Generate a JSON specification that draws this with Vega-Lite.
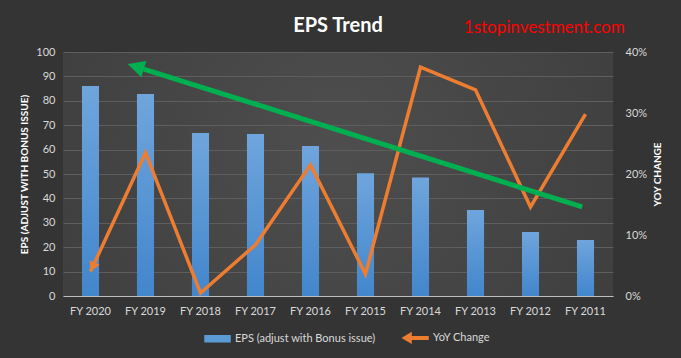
{
  "$schema": "https://vega.github.io/schema/vega-lite/v6.json",
  "width": 550,
  "height": 244,
  "autosize": {"type": "none"},
  "padding": {"left": 63, "top": 52, "right": 68, "bottom": 62},
  "background": "#343434",
  "title": {"text": "EPS Trend", "font": "Lato", "fontSize": 20, "fontWeight": "bold", "color": "#ffffff", "offset": 0, "dy": 17, "anchor": "middle", "frame": "group"},
  "config": {
    "font": "Lato",
    "view": {"stroke": null, "fill": {"gradient": "radial", "x1": 0.5, "y1": 0.45, "r1": 0, "x2": 0.5, "y2": 0.45, "r2": 0.75, "stops": [{"offset": 0, "color": "#4e4e4e"}, {"offset": 1, "color": "#3a3a3a"}]}}
  },
  "datasets": {
    "eps": [
      {"year": "FY 2020", "eps": 86.1, "yoy": 0.040},
      {"year": "FY 2019", "eps": 82.8, "yoy": 0.235},
      {"year": "FY 2018", "eps": 66.8, "yoy": 0.005},
      {"year": "FY 2017", "eps": 66.4, "yoy": 0.084},
      {"year": "FY 2016", "eps": 61.5, "yoy": 0.215},
      {"year": "FY 2015", "eps": 50.3, "yoy": 0.036},
      {"year": "FY 2014", "eps": 48.6, "yoy": 0.375},
      {"year": "FY 2013", "eps": 35.2, "yoy": 0.338},
      {"year": "FY 2012", "eps": 26.2, "yoy": 0.146},
      {"year": "FY 2011", "eps": 23.0, "yoy": 0.298}
    ],
    "trend": [
      {"pos": 1.47, "pct": 0.372},
      {"pos": 9.44, "pct": 0.146}
    ],
    "site": [
      {"label": "1stopinvestment.com"}
    ]
  },
  "layer": [
    {
      "data": {"name": "eps"},
      "mark": {"type": "bar", "color": {"gradient": "linear", "x1": 0, "y1": 0, "x2": 0, "y2": 1, "stops": [{"offset": 0, "color": "#6fa5dc"}, {"offset": 1, "color": "#4286cc"}]}},
      "encoding": {
        "x": {
          "field": "year", "type": "nominal", "sort": null,
          "scale": {"paddingInner": 0.69, "paddingOuter": 0.345},
          "axis": {"title": null, "labelAngle": 0, "labelColor": "#d9d9d9", "labelFont": "Lato", "labelFontSize": 11, "labelPadding": 9, "ticks": false, "domainColor": "#bfbfbf", "domainWidth": 1, "grid": false}
        },
        "y": {
          "field": "eps", "type": "quantitative",
          "scale": {"domain": [0, 100]},
          "axis": {"title": "EPS (ADJUST WITH BONUS ISSUE)", "titleColor": "#ffffff", "titleFont": "Lato", "titleFontSize": 10, "titleFontWeight": "bold", "titlePadding": 6, "values": [0, 10, 20, 30, 40, 50, 60, 70, 80, 90, 100], "labelColor": "#d9d9d9", "labelFont": "Lato", "labelFontSize": 11, "labelPadding": 8, "ticks": false, "domain": false, "grid": true, "gridColor": "#5e5e5e", "gridWidth": 1}
        }
      }
    },
    {
      "layer": [
        {
          "data": {"name": "eps"},
          "mark": {"type": "line", "strokeWidth": 3.5, "strokeJoin": "miter"},
          "encoding": {
            "x": {"field": "year", "type": "nominal", "sort": null, "scale": {"type": "point", "padding": 0.5}, "axis": null},
            "y": {
              "field": "yoy", "type": "quantitative",
              "scale": {"domain": [0, 0.4]},
              "axis": {"orient": "right", "title": "YOY CHANGE", "titleColor": "#ffffff", "titleFont": "Lato", "titleFontSize": 10, "titleFontWeight": "bold", "titleAngle": 270, "titleBaseline": "top", "titlePadding": 6, "values": [0, 0.05, 0.1, 0.15, 0.2, 0.25, 0.3, 0.35, 0.4], "format": ".0%", "labelColor": "#d9d9d9", "labelFont": "Lato", "labelFontSize": 11, "labelPadding": 12, "ticks": false, "domain": false, "grid": false}
            },
            "color": {
              "datum": "YoY Change", "type": "nominal",
              "scale": {"domain": ["EPS (adjust with Bonus issue)", "YoY Change"], "range": ["#5b9bd5", "#ed7d31"]},
              "legend": {
                "title": null, "orient": "none", "direction": "horizontal", "legendX": 141, "legendY": 272,
                "labelColor": "#d9d9d9", "labelFont": "Lato", "labelFontSize": 11, "labelOffset": 4, "columnPadding": 24,
                "symbolSize": 625,
                "encode": {"symbols": {"update": {
                  "shape": {"signal": "datum.value === 'YoY Change' ? 'M-1,0L-0.36,-0.38L-0.36,-0.1L1,-0.1L1,0.1L-0.36,0.1L-0.36,0.38Z' : 'M-1,-0.24H1V0.24H-1Z'"},
                  "fill": {"signal": "datum.value === 'YoY Change' ? '#ed7d31' : '#5b9bd5'"},
                  "stroke": {"value": "transparent"},
                  "opacity": {"value": 1},
                  "fillOpacity": {"value": 1}
                }}}
              }
            }
          }
        },
        {
          "data": {"name": "eps"},
          "transform": [{"filter": "datum.year === 'FY 2020'"}],
          "mark": {"type": "point", "shape": "M0,0L0.55,1L-0.55,1Z", "filled": true, "size": 400, "angle": 204.4, "color": "#ed7d31", "opacity": 1},
          "encoding": {
            "x": {"field": "year", "type": "nominal", "scale": {"type": "point", "padding": 0.5, "domain": ["FY 2020", "FY 2019", "FY 2018", "FY 2017", "FY 2016", "FY 2015", "FY 2014", "FY 2013", "FY 2012", "FY 2011"]}, "axis": null},
            "y": {"field": "yoy", "type": "quantitative", "scale": {"domain": [0, 0.4]}}
          }
        },
        {
          "data": {"name": "trend"},
          "mark": {"type": "line", "color": "#00b050", "strokeWidth": 5},
          "encoding": {
            "x": {"field": "pos", "type": "quantitative", "scale": {"domain": [0, 10], "nice": false}, "axis": null},
            "y": {"field": "pct", "type": "quantitative", "scale": {"domain": [0, 0.4]}}
          }
        },
        {
          "data": {"name": "trend"},
          "transform": [{"filter": "datum.pos < 5"}],
          "mark": {"type": "point", "shape": "M0,-1L0.5,0L-0.5,0Z", "filled": true, "size": 1156, "angle": 287.6, "color": "#00b050", "opacity": 1},
          "encoding": {
            "x": {"field": "pos", "type": "quantitative", "scale": {"domain": [0, 10], "nice": false}, "axis": null},
            "y": {"field": "pct", "type": "quantitative", "scale": {"domain": [0, 0.4]}}
          }
        },
        {
          "data": {"name": "site"},
          "mark": {"type": "text", "color": "#ff0000", "font": "Lato", "fontSize": 17, "align": "center", "baseline": "middle"},
          "encoding": {
            "text": {"field": "label", "type": "nominal"},
            "x": {"datum": 8.75, "type": "quantitative", "scale": {"domain": [0, 10], "nice": false}, "axis": null},
            "y": {"datum": 0.44, "type": "quantitative", "scale": {"domain": [0, 0.4]}}
          }
        }
      ],
      "resolve": {"scale": {"x": "independent"}}
    }
  ],
  "resolve": {"scale": {"x": "independent", "y": "independent"}}
}
